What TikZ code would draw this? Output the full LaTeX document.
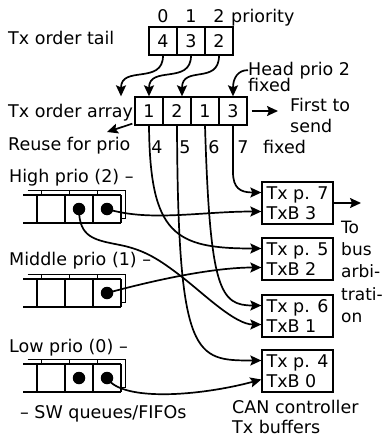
\documentclass[tikz,border=0pt]{standalone}
\usepackage{fontspec}
\setmainfont{DejaVu Sans}
\usetikzlibrary{arrows.meta}

% one software FIFO drawn as a small stack, centred vertically on #1
\newcommand\swqueue[1]{%
  % back layer of the stack
  \draw[qline] (27.5,{#1-18.5}) -- (125.5,{#1-18.5}) -- (125.5,{#1+9.5}) -- (121,{#1+9.5});
  \foreach \qx in {41.5,69.5,97.5} \draw[qline] (\qx,{#1-18.5}) -- (\qx,{#1-14});
  % front row of cells, open on the left
  \fill[white] (23,{#1-14}) rectangle (121,{#1+14});
  \draw[qline] (23,{#1-14}) -- (121,{#1-14}) (23,{#1+14}) -- (121,{#1+14});
  \foreach \qx in {37,65,93,121} \draw[qline] (\qx,{#1-14}) -- (\qx,{#1+14});
}

\begin{document}
\begin{tikzpicture}[x=1pt,y=-1pt,
  font=\fontsize{17.5pt}{20pt}\selectfont,
  lbl/.style={inner sep=0pt, anchor=base west},
  side/.style={lbl, font=\fontsize{17pt}{20pt}\selectfont},
  num/.style={inner sep=0pt, anchor=base},
  cell/.style={draw, line width=1.3pt, minimum width=28pt, minimum height=28pt, inner sep=0pt},
  buf/.style={draw, line width=1.3pt, minimum width=71pt, minimum height=42pt, align=left, inner sep=0pt},
  conn/.style={line width=1.7pt, -{Stealth[length=11pt,width=10pt,inset=2pt]}},
  qline/.style={line width=1.2pt},
  dot/.style={circle, fill=black, minimum size=12.5pt, inner sep=0pt},
]
\useasboundingbox (0,0) rectangle (384,436);

% ---- Tx order tail ----
\node[lbl] at (8,45) {Tx order tail};
\node[num] at (163,23) {0};
\node[num] at (191,23) {1};
\node[num] at (219,23) {2};
\node[lbl] at (231,23) {priority};
\node[cell] (t0) at (163,41) {4};
\node[cell] (t1) at (191,41) {3};
\node[cell] (t2) at (219,41) {2};

% ---- Tx order array ----
\node[lbl] at (8,117) {Tx order array};
\node[cell] (a1) at (149,111) {1};
\node[cell] (a2) at (177,111) {2};
\node[cell] (a3) at (205,111) {1};
\node[cell] (a4) at (233,111) {3};

\node[lbl] (head1) at (248,75) {Head prio 2};
\node[lbl] at (248,91) {fixed};
\node[lbl] at (290,111) {First to};
\node[lbl] at (290,132) {send};
\node[lbl] at (8,150) {Reuse for prio};
\coordinate (reusetip) at (107,132);
\coordinate (sendtip) at (278,111);

\node[num] at (157,153) {4};
\node[num] at (185,153) {5};
\node[num] at (214,153) {6};
\node[num] at (243,153) {7};
\node[lbl] at (263,153) {fixed};

% tail entries point into the order array
\draw[conn] (t0.south) .. controls (163,85) and (121,65) .. ([xshift=-28pt]a1.north);
\draw[conn] (t1.south) .. controls (191,85) and (149,65) .. (a1.north);
\draw[conn] (t2.south) .. controls (219,85) and (182,65) .. ([xshift=5pt]a2.north);
\draw[conn] (head1.west) .. controls (238,70) and (233,78) .. (a4.north);
\draw[conn] ([xshift=4pt]a4.east) -- (sendtip);
\draw[conn] ([shift={(-2pt,2pt)}]a1.south west) -- (reusetip);

% ---- SW queues ----
\node[lbl] at (9,182) {High prio (2) –};
\swqueue{209}
\node[lbl] at (9,265) {Middle prio (1) –};
\swqueue{293}
\node[lbl] at (9,352) {Low prio (0) –};
\swqueue{378}
\node[lbl] at (20,418) {– SW queues/FIFOs};

% ---- CAN controller Tx buffers ----
\node[buf] (b3) at (297.5,203) {Tx p. 7\\TxB 3};
\node[buf] (b2) at (297.5,259) {Tx p. 5\\TxB 2};
\node[buf] (b1) at (297.5,316) {Tx p. 6\\TxB 1};
\node[buf] (b0) at (297.5,371) {Tx p. 4\\TxB 0};
\node[lbl] at (232,413) {CAN controller};
\node[lbl] at (232,433) {Tx buffers};

\coordinate (bustip) at (361,203);
\draw[conn] (b3.east) -- (bustip);
\node[side] at (341,233) {To};
\node[side] at (341,255) {bus};
\node[side] at (341,277) {arbi-};
\node[side] at (341,300) {trati-};
\node[side] at (341,322) {on};

% ---- queued frames ----
\node[dot] (hq3) at (79,209) {};
\node[dot] (hq4) at (107,209) {};
\node[dot] (mq4) at (107,293) {};
\node[dot] (lq3) at (79,378) {};
\node[dot] (lq4) at (107,378) {};

% array slots to buffer priorities
\draw[conn] (a4.south) -- (233,172) .. controls (233,188) and (240,192.5) .. ([yshift=10.5pt]b3.west);
\draw[conn] (a1.south) .. controls (150,235) and (175,248.5) .. ([yshift=10.5pt]b2.west);
\draw[conn] (a3.south) .. controls (210,290) and (220,305.5) .. ([yshift=10.5pt]b1.west);
\draw[conn] (a2.south) .. controls (178,360) and (195,360.5) .. ([yshift=10.5pt]b0.west);

% queue heads to buffers
\draw[conn] (hq4.center) .. controls (150,222) and (200,211.5) .. ([yshift=-8.5pt]b3.west);
\draw[conn] (mq4.center) .. controls (170,276) and (220,267.5) .. ([yshift=-8.5pt]b2.west);
\draw[conn] (hq3.center) .. controls (79,238) and (95,240) .. (120,245)
  .. controls (145,250) and (160,260) .. (182,277)
  .. controls (204,294) and (235,324.5) .. ([yshift=-8.5pt]b1.west);
\draw[conn] (lq4.center) .. controls (122,402) and (200,396) .. ([yshift=-8.5pt]b0.west);

\end{tikzpicture}
\end{document}
